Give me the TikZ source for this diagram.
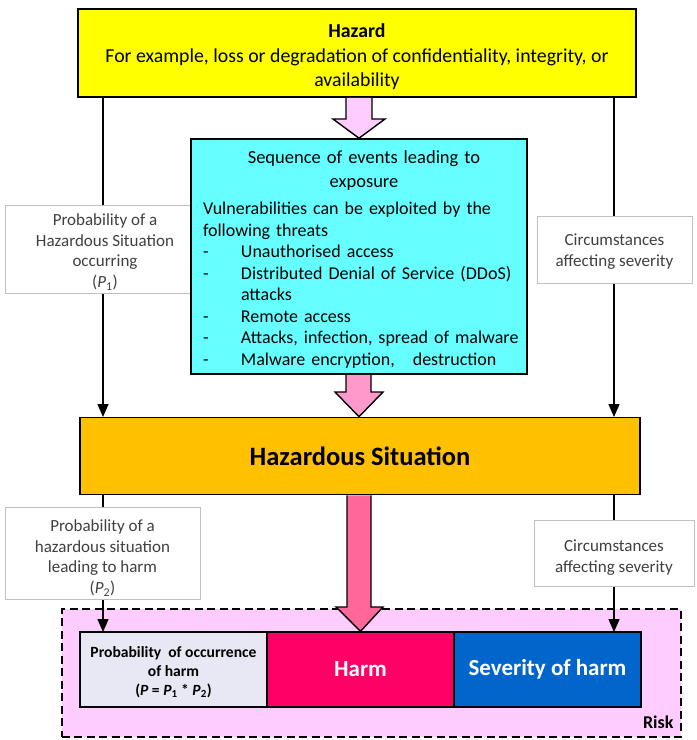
\documentclass[tikz,border=0pt]{standalone}
\usepackage{fontspec}
\setmainfont{Carlito}
\usetikzlibrary{arrows.meta}

\definecolor{hazardyellow}{HTML}{FFFF00}
\definecolor{seqcyan}{HTML}{66FFFF}
\definecolor{situationorange}{HTML}{FFC000}
\definecolor{lightpink}{HTML}{FFCCFF}
\definecolor{midpink}{HTML}{FF99CC}
\definecolor{deeppink}{HTML}{FF6699}
\definecolor{probgray}{HTML}{E8E8F4}
\definecolor{harmred}{HTML}{FF0066}
\definecolor{severityblue}{HTML}{0066CC}
\definecolor{labeltext}{HTML}{404040}
\definecolor{labelborder}{HTML}{BFBFBF}

\newcommand{\probsym}[1]{\textit{P}\textsubscript{#1}}
\newcommand{\threat}[1]{\makebox[38pt][l]{-}#1\par}

\tikzset{
  mainbox/.style={draw=black, line width=1.6pt, inner sep=0pt},
  labelbox/.style={draw=labelborder, line width=0.6pt, fill=white, inner sep=0pt},
  labeltextstyle/.style={inner sep=0pt, align=center, text=labeltext,
    font=\fontsize{17}{20.7}\selectfont},
  flowline/.style={line width=1.5pt, -{Triangle[width=11pt,length=13pt]}},
  blockarrow/.style={draw=black, line width=1.4pt, line join=miter},
  riskpart/.style={draw=black, line width=1.4pt, minimum height=75pt,
    minimum width=187pt, inner sep=0pt, align=center}
}

\begin{document}
\begin{tikzpicture}[x=1pt,y=-1pt]
\useasboundingbox (0,0) rectangle (697,740);

% risk region (dashed background)
\node[draw=black, fill=lightpink, line width=2pt, dash pattern=on 8pt off 4.5pt,
  minimum width=619pt, minimum height=128pt, inner sep=0pt] (risk) at (371,673) {};
\node[font=\bfseries\fontsize{18}{20}\selectfont, anchor=base east] (risklabel)
  at (677,728) {Risk};

% hazard box
\node[mainbox, fill=hazardyellow, minimum width=558pt, minimum height=88pt] (hazard) at (357,53) {};
\node[inner sep=0pt, align=center, font=\fontsize{19.8}{24.5}\selectfont] (hazardtext) at (357,57)
  {\textbf{Hazard}\\For example, loss or degradation of confidentiality, integrity, or\\availability};

% hazardous situation box
\node[mainbox, fill=situationorange, minimum width=560pt, minimum height=77pt,
  font=\bfseries\fontsize{26.5}{30}\selectfont] (situation) at (360,456) {Hazardous Situation};

% side flow lines (drawn before the label boxes that sit on them)
\coordinate (l1top) at (103,97);
\coordinate (l1bot) at (103,417);
\coordinate (r1top) at (614,97);
\coordinate (r1bot) at (614,417);
\coordinate (l2top) at (103,494);
\coordinate (l2bot) at (103,632);
\coordinate (r2top) at (614,494);
\coordinate (r2bot) at (614,632);
\draw[flowline] (l1top) -- (l1bot);
\draw[flowline] (r1top) -- (r1bot);
\draw[flowline] (l2top) -- (l2bot);
\draw[flowline] (r2top) -- (r2bot);

% labels on the flow lines
\node[labelbox, minimum width=200pt, minimum height=88pt] (p1) at (105,249) {};
\node[labeltextstyle] (p1text) at (105,252)
  {Probability of a\\Hazardous Situation\\occurring\\(\probsym{1})};
\node[labelbox, minimum width=155pt, minimum height=67pt] (sev1) at (614.5,249.5) {};
\node[labeltextstyle] (sev1text) at (614.5,251.5) {Circumstances\\affecting severity};
\node[labelbox, minimum width=195pt, minimum height=92pt] (p2) at (102.5,553) {};
\node[labeltextstyle] (p2text) at (102.5,558)
  {Probability of a\\hazardous situation\\leading to harm\\(\probsym{2})};
\node[labelbox, minimum width=160pt, minimum height=66pt] (sev2) at (614,553) {};
\node[labeltextstyle] (sev2text) at (614,557.5) {Circumstances\\affecting severity};

% sequence of events
\node[mainbox, fill=seqcyan, minimum width=336pt, minimum height=235pt] (seq) at (359,256.5) {};
\node[inner sep=0pt, text width=322pt, align=left, font=\fontsize{18}{21.5}\selectfont]
  (seqtext) at (364,259.5)
  {{\centering\fontsize{18.5}{23.5}\selectfont Sequence of events leading to\\ exposure\par}
   \vspace{6pt}
   Vulnerabilities can be exploited by the\\following threats\par
   \threat{Unauthorised access}
   \threat{Distributed Denial of Service (DDoS)}
   \hspace*{38pt}attacks\par
   \threat{Remote access}
   \threat{Attacks, infection, spread of malware}
   \threat{Malware encryption,\ \ \ destruction}};

% risk components
\node[riskpart, fill=probgray] (prob) at (173.5,669.5) {};
\node[inner sep=0pt, align=center, font=\bfseries\fontsize{15.6}{19}\selectfont] (probtext)
  at (173.5,672) {Probability\ \ of occurrence\\of harm\\(\textit{P} = \probsym{1} * \probsym{2})};
\node[riskpart, fill=harmred, text=white, font=\bfseries\fontsize{23}{26}\selectfont] (harm)
  at (360.5,669.5) {Harm};
\node[riskpart, fill=severityblue, text=white, font=\bfseries\fontsize{23}{26}\selectfont] (severity)
  at (547.5,669.5) {Severity of harm};

% block arrows between the main stages
\draw[blockarrow, fill=lightpink]
  (346,0 |- hazard.south) -- (346,119) -- (333,119) -- (seq.north)
  -- (385,119) -- (372,119) -- (372,0 |- hazard.south);
\draw[blockarrow, fill=midpink]
  (346,0 |- seq.south) -- (346,392) -- (335,392) -- (359,0 |- situation.north)
  -- (383,392) -- (371,392) -- (371,0 |- seq.south);
\draw[blockarrow, fill=deeppink]
  (347,0 |- situation.south) -- (347,607) -- (336,607) -- (harm.north)
  -- (383,607) -- (371,607) -- (371,0 |- situation.south);
\end{tikzpicture}
\end{document}
